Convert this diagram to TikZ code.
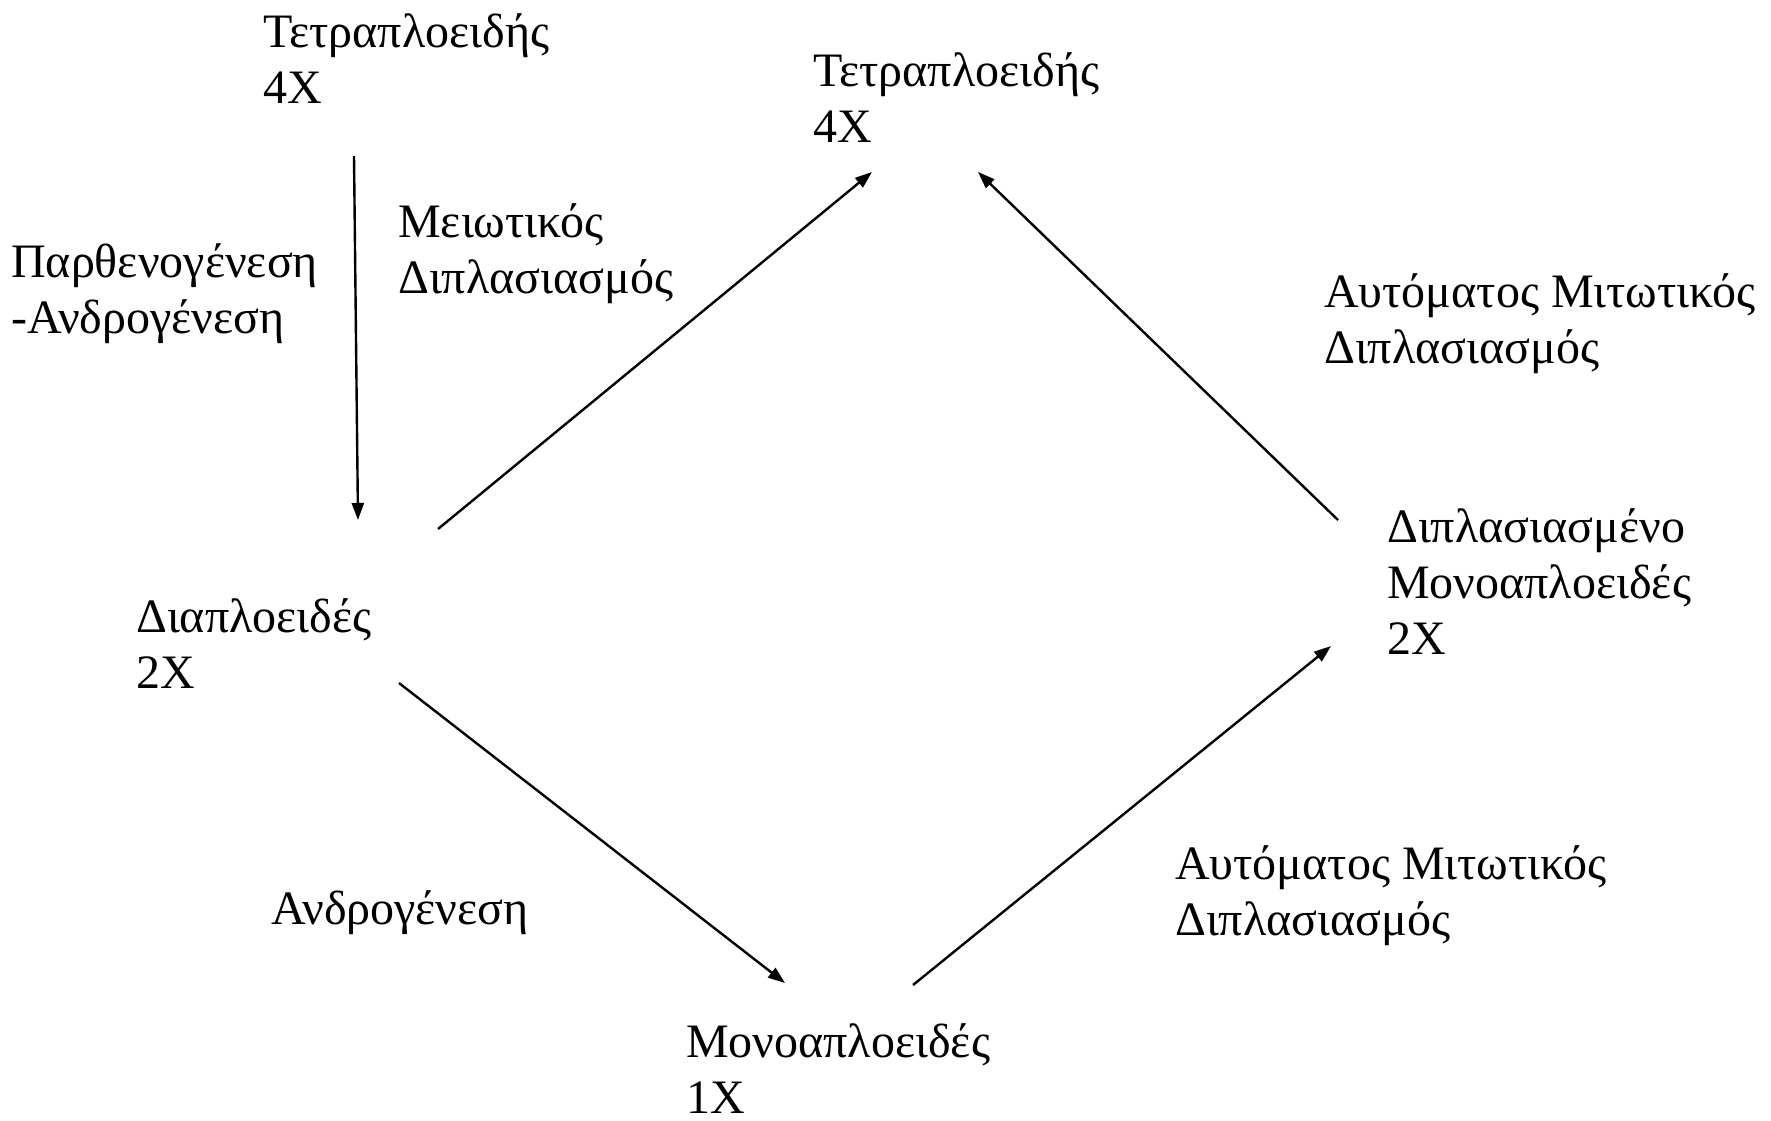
\documentclass[tikz,border=0pt]{standalone}
\usepackage{fontspec}
\setmainfont{Liberation Serif}
\usetikzlibrary{arrows.meta}
\begin{document}
\begin{tikzpicture}[x=1pt,y=-1pt,
  lbl/.style={anchor=base west,inner sep=0pt,align=left,font=\fontsize{48}{56}\selectfont},
  conn/.style={line width=2.4pt,-{Triangle[length=17pt,width=12pt]}}]
\useasboundingbox[fill=white] (0,0) rectangle (1771,1120);
\node[lbl] (tl) at (263,103) {Τετραπλοειδής\\4X};
\node[lbl] (tc) at (813,142) {Τετραπλοειδής\\4X};
\node[lbl] (mei) at (398,293) {Μειωτικός\\Διπλασιασμός};
\node[lbl] (par) at (11,333) {Παρθενογένεση\\-Ανδρογένεση};
\node[lbl] (aut1) at (1324,363) {Αυτόματος Μιτωτικός\\Διπλασιασμός};
\node[lbl] (dip) at (1387,654) {Διπλασιασμένο\\Μονοαπλοειδές\\2X};
\node[lbl] (dia) at (136,688) {Διαπλοειδές\\2X};
\node[lbl] (andr) at (271,924) {Ανδρογένεση};
\node[lbl] (aut2) at (1175,935) {Αυτόματος Μιτωτικός\\Διπλασιασμός};
\node[lbl] (mono) at (686,1113) {Μονοαπλοειδές\\1X};
\coordinate (a1) at (354,156);
\coordinate (a2) at (358,520);
\coordinate (b1) at (438,529);
\coordinate (b2) at (872,172);
\coordinate (c1) at (1338,520);
\coordinate (c2) at (978,172);
\coordinate (d1) at (399,683);
\coordinate (d2) at (785,983);
\coordinate (e1) at (913,985);
\coordinate (e2) at (1331,646);
\draw[conn] (a1) -- (a2);
\draw[conn] (b1) -- (b2);
\draw[conn] (c1) -- (c2);
\draw[conn] (d1) -- (d2);
\draw[conn] (e1) -- (e2);
\end{tikzpicture}
\end{document}
